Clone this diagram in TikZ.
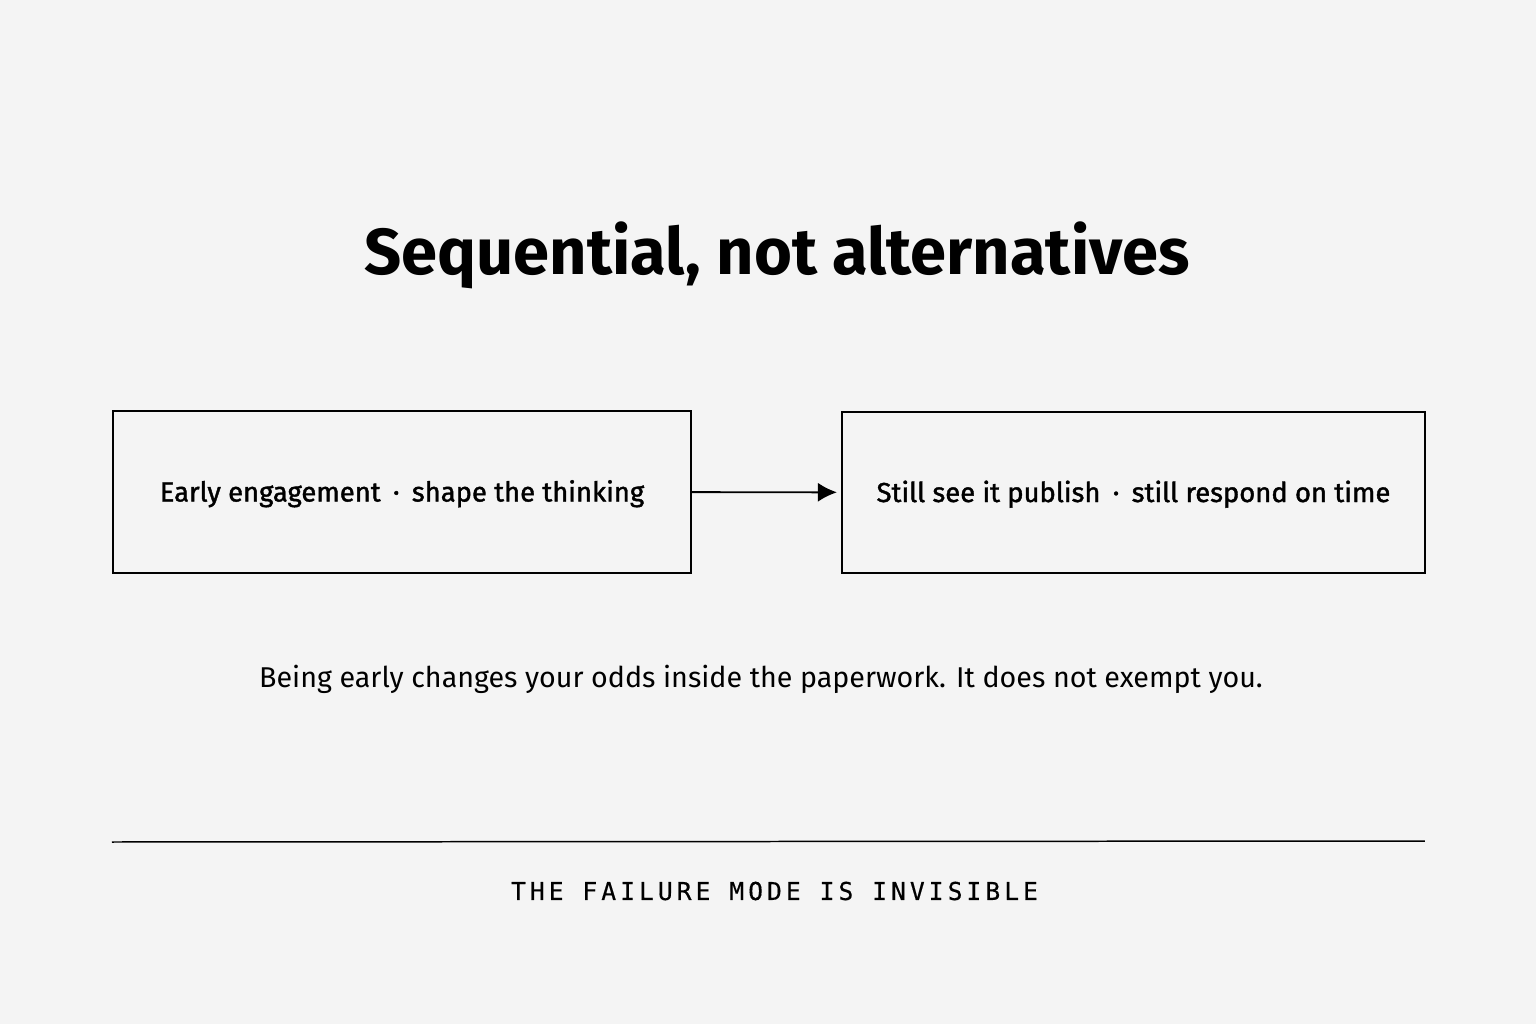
\documentclass[tikz,border=0pt]{standalone}
\usepackage{fontspec}
\setmainfont{Fira Sans}
\newfontfamily\boxfont[FakeBold=1.4]{Fira Sans}
\newfontfamily\footfont[LetterSpace=16.5, FakeBold=0.4]{DejaVu Sans Mono}
\usetikzlibrary{arrows.meta}
\definecolor{paper}{HTML}{F4F4F4}
\newcommand{\sepdot}{\hspace{0.45em}\textperiodcentered\hspace{0.45em}}
\begin{document}
\begin{tikzpicture}[scale=0.2]
\tikzstyle{every node}+=[inner sep=0pt]
\tikzstyle{stagebox}=[draw=black, line width=1.2pt, minimum height=3.23cm, text height=10.8pt, text depth=0pt, font=\fontsize{15.6}{19}\boxfont]
\fill [paper] (0,0) rectangle (153.6,-102.4);
\node (title) at (77.7,-25.5) {\fontsize{37}{44}\selectfont\bfseries Sequential,\ not\ alternatives};
\node [stagebox, minimum width=11.56cm] (early) at (40.2,-49.2) {Early engagement\sepdot shape the thinking};
\node [stagebox, minimum width=11.66cm] (still) at (113.35,-49.25) {Still see it publish\sepdot still respond on time};
\draw [black, line width=1.1pt, -{Latex[length=0.38cm, width=0.38cm]}, shorten >=0.08cm] (early) -- (still);
\node (note) at (76.1,-67.9) {\fontsize{16.3}{20}\selectfont Being early changes your odds inside the paperwork. It does not exempt you.};
\coordinate (ruleL) at (11.2,-84.2);
\coordinate (ruleR) at (142.5,-84.1);
\draw [black, line width=0.85pt] (ruleL) -- (ruleR);
\node (foot) at (77.45,-89.1) {\fontsize{14}{17}\footfont THE FAILURE MODE IS INVISIBLE};
\end{tikzpicture}
\end{document}
